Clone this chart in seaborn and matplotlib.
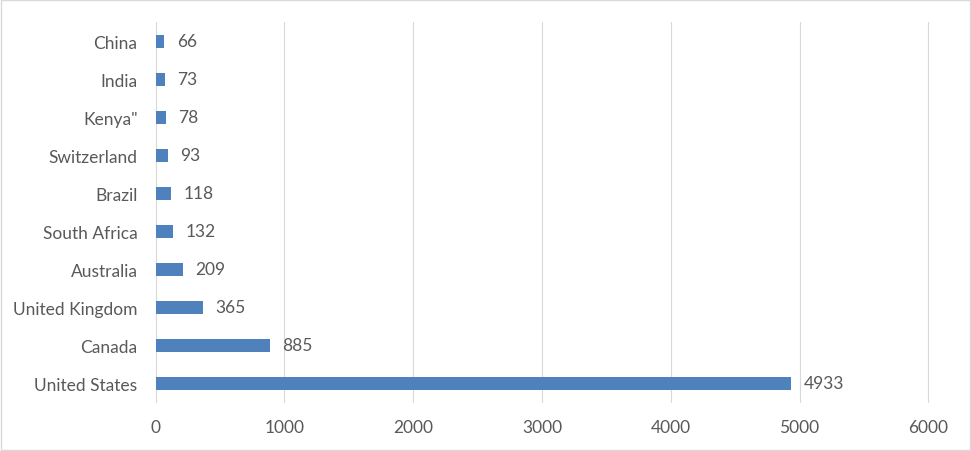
import matplotlib
matplotlib.use("Agg")
import matplotlib.pyplot as plt
import seaborn as sns
import pandas as pd

countries = ["China", "India", 'Kenya"', "Switzerland", "Brazil", "South Africa",
             "Australia", "United Kingdom", "Canada", "United States"]
values = [66, 73, 78, 93, 118, 132, 209, 365, 885, 4933]
xticks = [0, 1000, 2000, 3000, 4000, 5000, 6000]

sns.set_style("white")
plt.rcParams["font.family"] = ["Lato", "DejaVu Sans"]
txt = "#595959"

df = pd.DataFrame({"country": countries, "value": values})

fig = plt.figure(figsize=(9.71, 4.52), dpi=100)
ax = fig.add_axes([0.1603, 0.108, 0.7957, 0.841])
sns.barplot(data=df, x="value", y="country", color="#4f81bd", saturation=1,
            width=0.34, linewidth=0, ax=ax, zorder=3)

ax.set_xlim(0, 6000)
ax.set_xticks(xticks)
ax.set_xticklabels([str(t) for t in xticks])
ax.set_ylim(9.5, -0.5)
ax.set_xlabel("")
ax.set_ylabel("")
ax.grid(axis="x", color="#d9d9d9", linewidth=0.8, zorder=0)
ax.grid(axis="y", visible=False)
for gl in ax.get_xgridlines():
    gl.set_clip_on(False)
for s in ax.spines.values():
    s.set_visible(False)
ax.tick_params(axis="both", length=0, labelsize=12.5, labelcolor=txt)
ax.tick_params(axis="x", pad=12)
ax.tick_params(axis="y", pad=13)

ax.bar_label(ax.containers[0], labels=[str(v) for v in values], padding=9,
             fontsize=12.5, color=txt)

# outer border
fig.patches.append(plt.Rectangle((0.001, 0.002), 0.998, 0.996, transform=fig.transFigure,
                                 fill=False, edgecolor="#d9d9d9", linewidth=1))

fig.savefig("out.png", dpi=100)
